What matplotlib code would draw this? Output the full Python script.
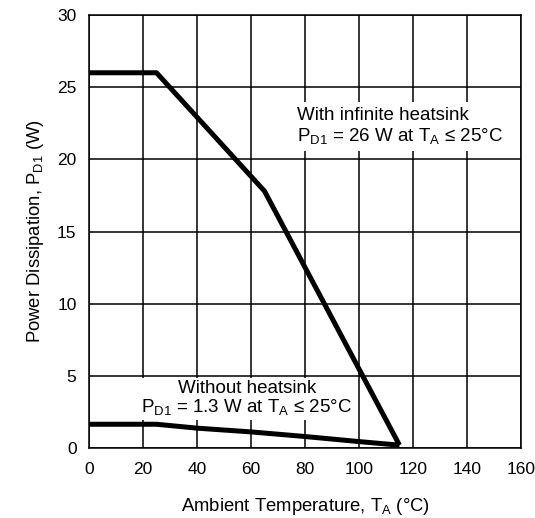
import matplotlib
matplotlib.use("Agg")
import matplotlib.pyplot as plt

plt.rcParams['font.family'] = ['Liberation Sans', 'DejaVu Sans']
plt.rcParams['mathtext.fontset'] = 'custom'
plt.rcParams['mathtext.rm'] = 'Liberation Sans'
plt.rcParams['mathtext.it'] = 'Liberation Sans'

# Derating curves
temp_heatsink = [0, 25, 65, 115]
power_heatsink = [26, 26, 17.8, 0.2]

temp_no_heatsink = [0, 25, 40, 60, 80, 100, 115]
power_no_heatsink = [1.65, 1.65, 1.38, 1.12, 0.8, 0.45, 0.2]

x_ticks = [0, 20, 40, 60, 80, 100, 120, 140, 160]
y_ticks = [0, 5, 10, 15, 20, 25, 30]

fig = plt.figure(figsize=(5.35, 5.18), dpi=100)
ax = fig.add_axes([0.1664, 0.135, 0.8074, 0.836])

ax.plot(temp_heatsink, power_heatsink, color="black", lw=3.6, solid_capstyle="butt", zorder=3)
ax.plot(temp_no_heatsink, power_no_heatsink, color="black", lw=3.6, solid_capstyle="butt", zorder=3)

ax.set_xlim(0, 160)
ax.set_ylim(0, 30)
ax.set_xticks(x_ticks)
ax.set_yticks(y_ticks)
ax.grid(True, color="black", lw=1.1)
ax.set_axisbelow(True)
for s in ax.spines.values():
    s.set_linewidth(1.1)
ax.tick_params(length=0, labelsize=12.5, pad=10)
ax.tick_params(axis="y", pad=9)

ax.set_xlabel(r"Ambient Temperature, T$_\mathrm{A}$ (°C)", fontsize=13.3, labelpad=14)
ax.set_ylabel(r"Power Dissipation, P$_\mathrm{D1}$ (W)", fontsize=13.3, labelpad=8)

box = dict(facecolor="white", edgecolor="none", pad=4)
ax.text(77, 22.3, "With infinite heatsink\n" + r"P$_\mathrm{D1}$ = 26 W at T$_\mathrm{A}$ ≤ 25°C",
        fontsize=13.5, ha="left", va="center", linespacing=1.15, bbox=box, zorder=2)
ax.text(58.5, 3.45, "Without heatsink\n" + r"P$_\mathrm{D1}$ = 1.3 W at T$_\mathrm{A}$ ≤ 25°C",
        fontsize=13.5, ha="center", va="center", linespacing=1.0, multialignment="center",
        bbox=dict(facecolor="white", edgecolor="none", pad=2), zorder=2)

fig.savefig("out.png", dpi=100)
